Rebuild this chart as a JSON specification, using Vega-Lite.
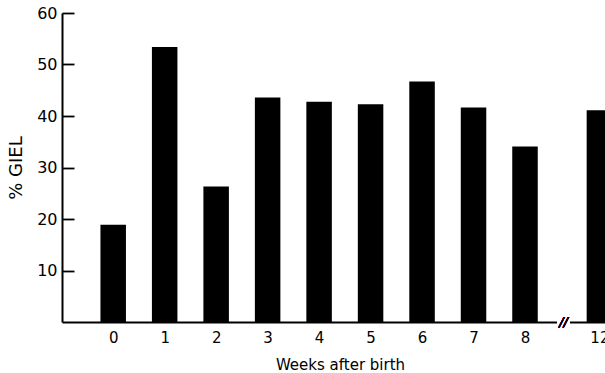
{
  "$schema": "https://vega.github.io/schema/vega-lite/v6.json",
  "autosize": {"type": "none"},
  "width": 543,
  "height": 309,
  "padding": {"left": 62, "top": 13, "right": 0, "bottom": 51},
  "background": "white",
  "config": {"view": {"stroke": null}, "font": "DejaVu Sans"},
  "data": {"values": [
    {"week": 0, "giel": 18.9},
    {"week": 1, "giel": 53.4},
    {"week": 2, "giel": 26.3},
    {"week": 3, "giel": 43.6},
    {"week": 4, "giel": 42.75},
    {"week": 5, "giel": 42.3},
    {"week": 6, "giel": 46.7},
    {"week": 7, "giel": 41.65},
    {"week": 8, "giel": 34.1},
    {"week": 12, "giel": 41.1}
  ]},
  "layer": [
    {
      "mark": {"type": "bar", "color": "black", "width": 25.5, "clip": true},
      "encoding": {
        "x": {
          "field": "week", "type": "quantitative",
          "scale": {"domain": [-0.9946, 8, 12.3], "range": [0, 463, 543], "nice": false, "zero": false, "padding": 0},
          "axis": {
            "values": [0, 1, 2, 3, 4, 5, 6, 7, 8, 12],
            "ticks": false, "grid": false,
            "domainColor": "black", "domainWidth": 2,
            "labelColor": "black", "labelFontSize": 15, "labelPadding": 8, "labelFlush": false,
            "labelBound": false,
            "title": "Weeks after birth",
            "titleFontSize": 15, "titleFontWeight": "normal", "titleColor": "black",
            "titleX": 278, "titleY": 47, "titleAnchor": "middle", "titleBaseline": "alphabetic"
          }
        },
        "y": {
          "field": "giel", "type": "quantitative",
          "scale": {"domain": [0, 60], "nice": false},
          "axis": {
            "values": [10, 20, 30, 40, 50, 60],
            "tickSize": -12, "tickWidth": 1.8, "tickColor": "black",
            "grid": false,
            "domainColor": "black", "domainWidth": 2,
            "labelColor": "black", "labelFontSize": 16, "labelPadding": 17,
            "title": "% GIEL",
            "titleFontSize": 18, "titleFontWeight": "normal", "titleColor": "black",
            "titleX": -46, "titleBaseline": "middle"
          }
        }
      }
    },
    {
      "mark": {"type": "rule", "color": "white", "strokeWidth": 4},
      "encoding": {
        "x": {"datum": 9.72, "type": "quantitative"},
        "x2": {"datum": 10.42},
        "y": {"datum": 0, "type": "quantitative"}
      }
    },
    {
      "mark": {"type": "text", "text": "//", "fontSize": 13, "fontStyle": "italic", "color": "black", "baseline": "middle", "align": "center"},
      "encoding": {
        "x": {"datum": 10.07, "type": "quantitative"},
        "y": {"datum": 0, "type": "quantitative"}
      }
    }
  ]
}
